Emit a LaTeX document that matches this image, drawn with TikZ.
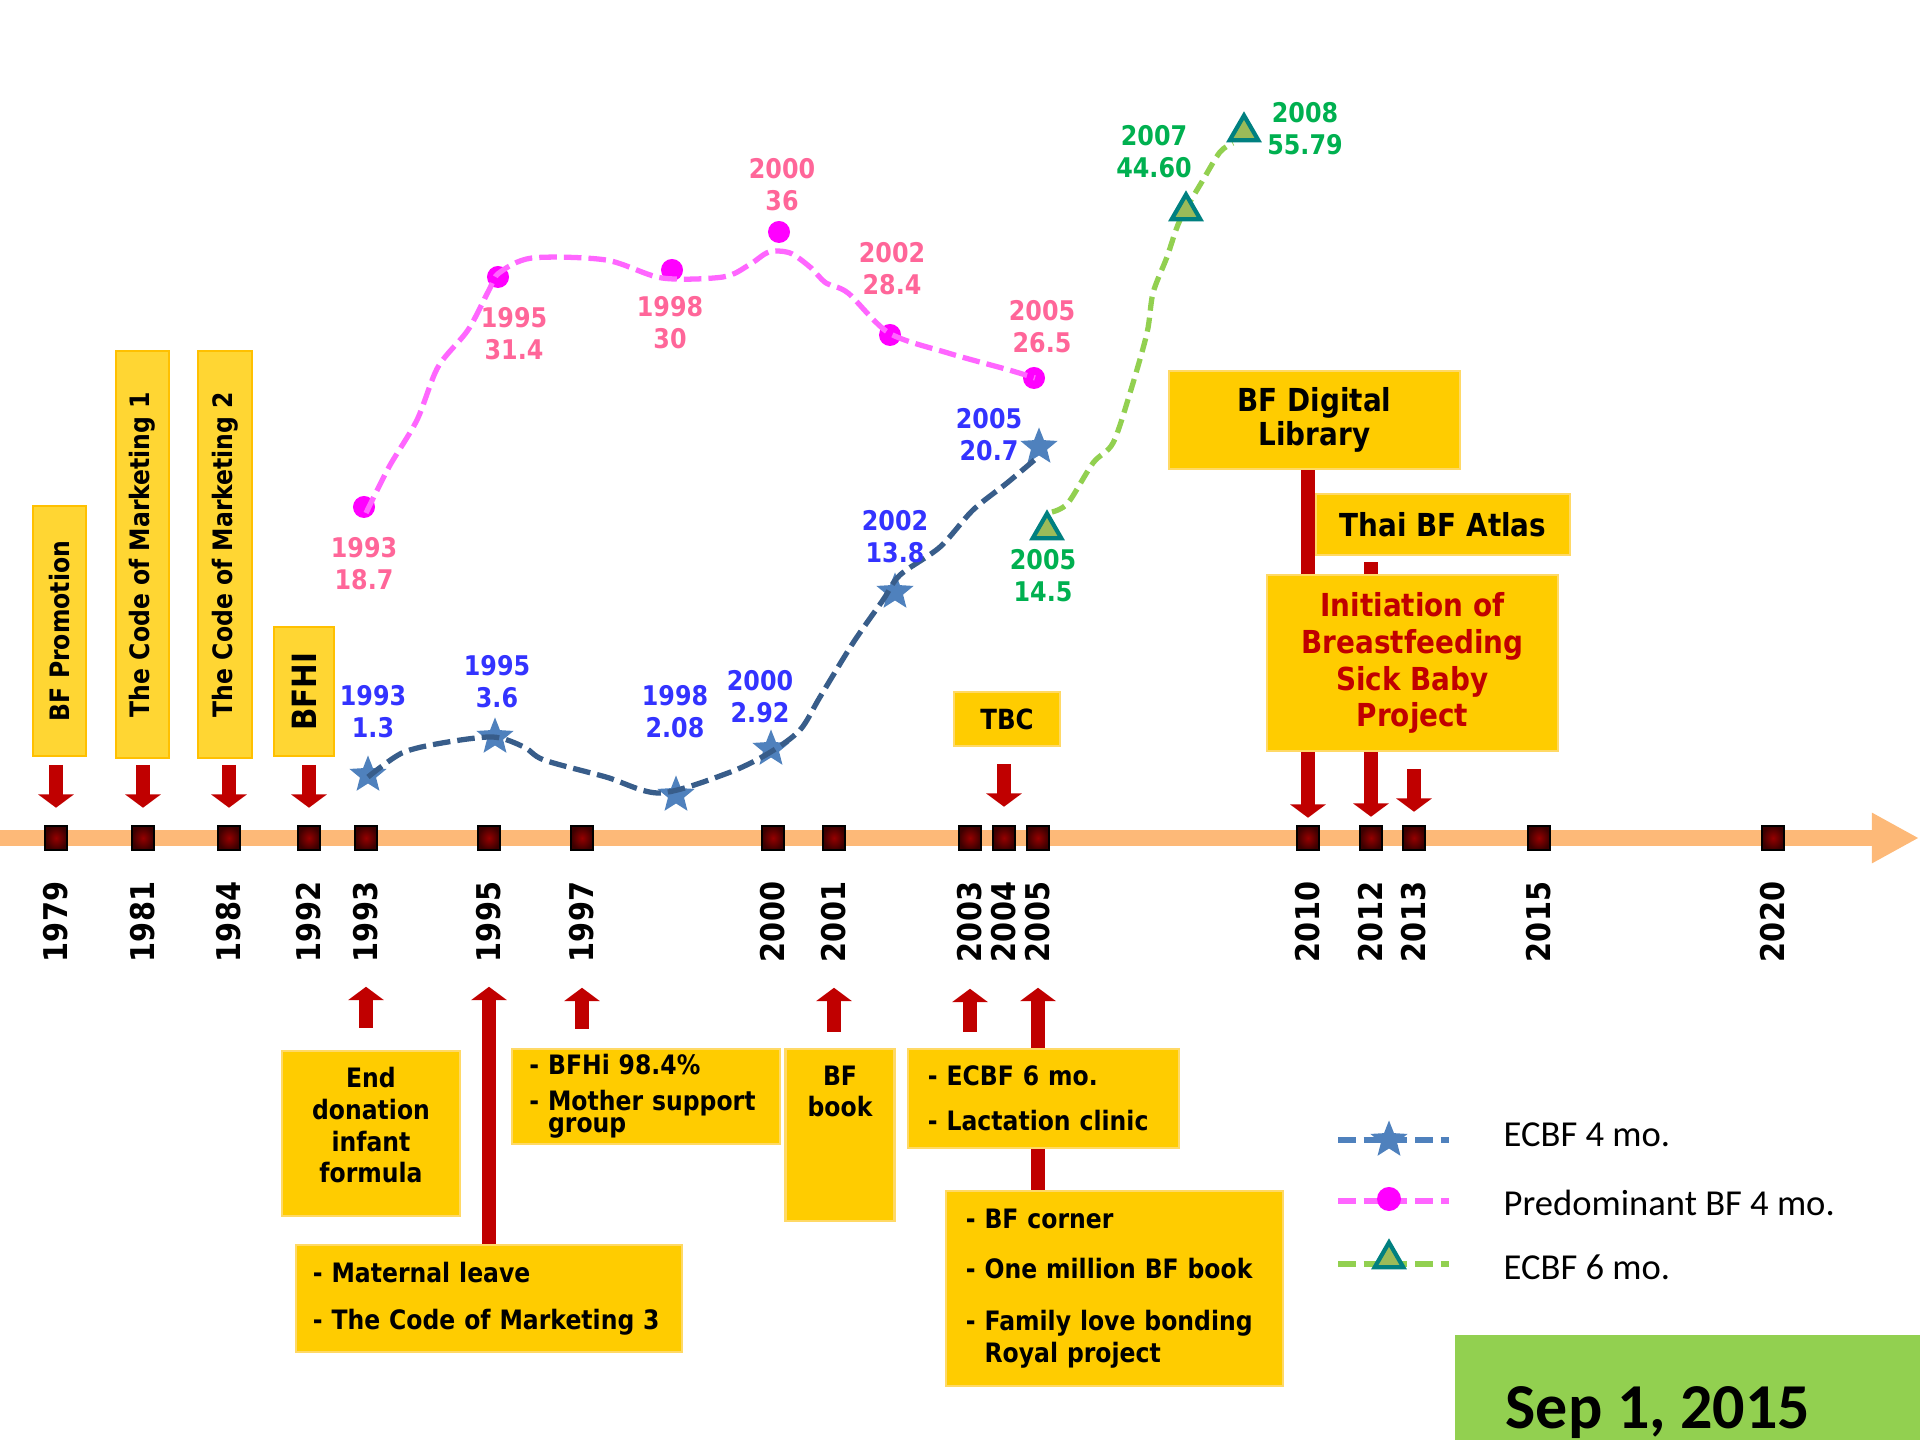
\documentclass[tikz,border=0pt]{standalone}
\usepackage{fontspec}
\setmainfont{DejaVu Sans}[FakeStretch=0.88]
\newfontfamily\calibri{Carlito}
\usetikzlibrary{arrows.meta,shapes.geometric}

\definecolor{boxgold}{RGB}{255,204,0}
\definecolor{boxedge}{RGB}{255,217,102}
\definecolor{tallgold}{RGB}{255,214,51}
\definecolor{talledge}{RGB}{255,192,0}
\definecolor{arrred}{RGB}{192,0,0}
\definecolor{markhi}{RGB}{150,0,0}
\definecolor{marklo}{RGB}{60,0,0}
\definecolor{tlorange}{RGB}{253,185,120}
\definecolor{pinkline}{RGB}{255,102,255}
\definecolor{dotmagenta}{RGB}{255,0,255}
\definecolor{pinktext}{RGB}{255,102,153}
\definecolor{starblue}{RGB}{79,129,189}
\definecolor{navyline}{RGB}{56,93,138}
\definecolor{bluetext}{RGB}{51,51,255}
\definecolor{trifill}{RGB}{155,187,89}
\definecolor{triedge}{RGB}{0,128,128}
\definecolor{greenline}{RGB}{146,208,80}
\definecolor{greentext}{RGB}{0,176,80}

\tikzset{
  yearmark/.style={draw=black, line width=0.7pt, inner color=markhi, outer color=marklo,
    minimum width=0.22cm, minimum height=0.24cm, inner sep=0pt},
  yearlbl/.style={rotate=90, inner sep=0pt, font=\fontsize{9.3}{11}\selectfont\bfseries},
  tallbox/.style={rotate=90, fill=tallgold, draw=talledge, line width=0.5pt, inner sep=0pt,
    font=\fontsize{7.6}{9}\selectfont\bfseries},
  goldbox/.style={fill=boxgold, draw=boxedge, line width=0.6pt, inner sep=0pt, align=center,
    font=\fontsize{7.6}{9}\selectfont\bfseries},
  listbox/.style={goldbox, align=left, inner xsep=0.2cm},
  bigbox/.style={goldbox, font=\fontsize{9}{9.7}\selectfont\bfseries},
  blockarr/.style={draw=arrred, line width=4.2pt, -{Triangle[width=10pt,length=3.8pt]}},
  longarr/.style={blockarr, line width=3.8pt},
  ptlbl/.style={align=center, inner sep=0pt, font=\fontsize{7.7}{9.1}\selectfont\bfseries},
  pinkdot/.style={circle, fill=dotmagenta, minimum size=0.22cm, inner sep=0pt},
  bluestar/.style={star, star points=5, star point ratio=2.3, fill=starblue, minimum size=0.39cm, inner sep=0pt},
  greentri/.style={regular polygon, regular polygon sides=3, fill=trifill, draw=triedge,
    line width=1.2pt, minimum size=0.33cm, inner sep=0pt},
  pinkcurve/.style={draw=pinkline, line width=1.5pt, dash pattern=on 5pt off 2pt},
  bluecurve/.style={draw=navyline, line width=1.5pt, dash pattern=on 5pt off 2pt},
  greencurve/.style={draw=greenline, line width=1.5pt, dash pattern=on 4pt off 2pt},
  legline/.style={line width=1.7pt, dash pattern=on 5pt off 2.3pt},
  legtxt/.style={anchor=west, inner sep=0pt, font=\calibri\fontsize{10.4}{12}\selectfont},
}

\begin{document}
\begin{tikzpicture}[x=0.01cm, y=-0.01cm]
    \useasboundingbox (0,0) rectangle (1920,1440);

    % Timeline
    \coordinate (tstart) at (0,838);
    \coordinate (tend) at (1919,838);
    \draw[line width=4.6pt, draw=tlorange, -{Triangle[width=13.4pt,length=13.4pt]}] (tstart) -- (tend);

    % Year markers and years
    \foreach \yr/\x in {1979/56, 1981/143, 1984/229, 1992/309, 1993/366, 1995/489, 1997/582,
        2000/773, 2001/834, 2003/970, 2004/1004, 2005/1038, 2010/1308, 2012/1371, 2013/1414,
        2015/1539, 2020/1773} {
        \node[yearmark] (m\yr) at (\x,838) {};
        \node[yearlbl] (y\yr) at (\x,922) {\yr};
    }

    % Events above the timeline
    \node[tallbox, minimum width=2.5cm, minimum height=0.53cm] (bfprom) at (59.5,631) {BF Promotion};
    \node[tallbox, minimum width=4.07cm, minimum height=0.53cm] (com1) at (142.5,554.5) {The Code of Marketing 1};
    \node[tallbox, minimum width=4.07cm, minimum height=0.54cm] (com2) at (225,554.5) {The Code of Marketing 2};
    \node[tallbox, minimum width=1.29cm, minimum height=0.6cm, font=\fontsize{9.5}{11}\selectfont\bfseries] (bfhi) at (304,691.5) {BFHI};
    \node[goldbox, minimum width=1.06cm, minimum height=0.54cm, font=\fontsize{7.9}{9}\selectfont\bfseries] (tbc) at (1007,719) {TBC};
    \node[bigbox, minimum width=2.91cm, minimum height=0.98cm] (bfdl) at (1314.5,420) {BF Digital\\Library};
    \node[bigbox, minimum width=2.54cm, minimum height=0.61cm] (thai) at (1443,524.5) {Thai BF Atlas};

    \draw[blockarr, shorten <=0.08cm, shorten >=0.17cm] (bfprom.west -| m1979) -- (m1979.north);
    \draw[blockarr, shorten <=0.06cm, shorten >=0.17cm] (com1.west -| m1981) -- (m1981.north);
    \draw[blockarr, shorten <=0.06cm, shorten >=0.17cm] (com2.west -| m1984) -- (m1984.north);
    \draw[blockarr, shorten <=0.08cm, shorten >=0.17cm] (bfhi.west -| m1992) -- (m1992.north);
    \draw[blockarr, xshift=0.04cm, shorten <=0.17cm, shorten >=0.18cm] (tbc.south -| m2004) -- (m2004.north);
    \draw[longarr, shorten >=0.07cm] (bfdl.south -| m2010) -- (m2010.north);
    \draw[longarr, shorten <=0.06cm, shorten >=0.08cm] (thai.south -| m2012) -- (m2012.north);

    \node[bigbox, minimum width=2.91cm, minimum height=1.76cm, text=arrred,
        font=\fontsize{9}{10.5}\selectfont\bfseries] (sickbaby) at (1412.5,663)
        {Initiation of\\Breastfeeding\\Sick Baby\\Project};
    \draw[blockarr, shorten <=0.17cm, shorten >=0.13cm] (sickbaby.south -| m2013) -- (m2013.north);

    % Events below the timeline
    \node[goldbox, minimum width=1.78cm, minimum height=1.65cm,
        label={[font=\fontsize{7.6}{9}\selectfont\bfseries, align=center, anchor=north, inner sep=0pt, yshift=-0.17cm]north:End\\donation\\infant\\formula}]
        (enddon) at (371,1133.5) {};
    \draw[blockarr, shorten <=0.22cm, shorten >=0.24cm] (enddon.north -| m1993) -- (y1993.west);

    \node[listbox, inner xsep=0.17cm, text width=3.52cm, minimum height=1.07cm] (matleave) at (489,1298.5)
        {- Maternal leave\\[4.4pt]- The Code of Marketing 3};
    \draw[longarr, shorten >=0.24cm] (matleave.north -| m1995) -- (y1995.west);

    \node[listbox, inner xsep=0.17cm, text width=2.33cm, minimum height=0.95cm] (bfhi98) at (646,1096.5)
        {- BFHi 98.4\%\\[1.2pt]- Mother support\\[-2.6pt]\phantom{- }group};
    \draw[blockarr, shorten <=0.19cm, shorten >=0.25cm] (bfhi98.north -| m1997) -- (y1997.west);

    \node[goldbox, minimum width=1.09cm, minimum height=1.72cm,
        label={[font=\fontsize{7.6}{9}\selectfont\bfseries, align=center, anchor=north, inner sep=0pt, yshift=-0.17cm]north:BF\\book}]
        (bfbook) at (840,1135) {};
    \draw[blockarr, shorten <=0.16cm, shorten >=0.25cm] (bfbook.north -| m2001) -- (y2001.west);

    \node[listbox, text width=2.97cm, minimum height=1.95cm] (bfcorner) at (1114.5,1288.5)
        {- BF corner\\[5.2pt]- One million BF book\\[6pt]- Family love bonding\\\phantom{- }Royal project};
    \draw[longarr, xshift=0.08cm, shorten >=0.25cm] (bfcorner.north -| m2005) -- (y2005.west);

    \node[listbox, text width=2.31cm, minimum height=0.99cm] (ecbf6) at (1043.5,1098.5)
        {- ECBF 6 mo.\\[3.8pt]- Lactation clinic};
    \draw[blockarr, xshift=0.06cm, shorten <=0.16cm, shorten >=0.26cm] (ecbf6.north -| m2003) -- (y2003.west);

    % Predominant BF 4 mo.
    \foreach \yr/\x/\y in {1993/364/507, 1995/498/277, 1998/672/270, 2000/779/232, 2002/890/335, 2005/1034/378}
        \node[pinkdot] (pd\yr) at (\x,\y) {};
    \draw[pinkcurve] plot[smooth, tension=0.5] coordinates {(366,513) (389,467) (417,420) (438,367)
        (468,330) (489,290) (499,273) (532,258) (606,260) (662,278) (723,277) (749,265) (769,252)
        (790,253) (810,267) (826,283) (848,293) (889,333) (948,353) (1009,370) (1035,378)};
    \foreach \yr/\val/\x/\y in {1993/18.7/364/564, 1995/31.4/514/334, 1998/30/670/323,
        2000/36/782/185, 2002/28.4/892/269, 2005/26.5/1042/327}
        \node[ptlbl, text=pinktext] (pl\yr) at (\x,\y) {\yr\\\val};

    % ECBF 4 mo.
    \foreach \yr/\x/\y in {1993/368/775, 1995/495/737, 1998/676/795, 2000/771/749, 2002/895/592, 2005/1039/447}
        \node[bluestar] (bs\yr) at (\x,\y) {};
    \draw[bluecurve] plot[smooth, tension=0.5] coordinates {(368,777) (402,753) (442,743) (493,737)
        (524,747) (544,760) (606,777) (660,793) (728,773) (769,753) (800,730) (820,697) (853,643)
        (883,600) (900,575) (940,547) (973,510) (1007,483) (1038,457)};
    \foreach \yr/\val/\x/\y in {1993/1.3/373/712, 1995/3.6/497/682, 1998/2.08/675/712,
        2000/2.92/760/697, 2002/13.8/895/537, 2005/20.7/989/435}
        \node[ptlbl, text=bluetext] (bl\yr) at (\x,\y) {\yr\\\val};

    % ECBF 6 mo.
    \draw[greencurve] plot[smooth, tension=0.5] coordinates {(1052,512) (1068,503) (1093,463)
        (1113,443) (1130,393) (1147,333) (1153,293) (1167,257) (1180,220) (1203,180) (1220,152) (1233,143)};
    \foreach \yr/\x/\y in {2005/1047/530, 2007/1186/211, 2008/1244/132}
        \node[greentri] (gt\yr) at (\x,\y) {};
    \foreach \yr/\val/\x/\y in {2005/14.5/1043/576, 2007/44.60/1154/152, 2008/55.79/1305/129}
        \node[ptlbl, text=greentext] (gl\yr) at (\x,\y) {\yr\\\val};

    % Legend
    \draw[legline, draw=starblue] (1338,1140) -- (1449,1140);
    \node[bluestar] (lgstar) at (1389,1140) {};
    \node[legtxt] (lgtxt1) at (1503,1135) {ECBF 4 mo.};
    \draw[legline, draw=pinkline] (1338,1201) -- (1449,1201);
    \node[pinkdot, minimum size=0.24cm] (lgdot) at (1389,1199) {};
    \node[legtxt] (lgtxt2) at (1503,1203) {Predominant BF 4 mo.};
    \draw[legline, draw=greenline] (1338,1264) -- (1449,1264);
    \node[greentri] (lgtri) at (1389,1259) {};
    \node[legtxt] (lgtxt3) at (1503,1267) {ECBF 6 mo.};

    % Date
    \fill[greenline] (1455,1335) rectangle (1930,1450);
    \node[anchor=base west, inner sep=0pt, font=\calibri\bfseries\fontsize{18.2}{20}\selectfont] (sepdate) at (1505,1429) {Sep 1, 2015};
\end{tikzpicture}
\end{document}
